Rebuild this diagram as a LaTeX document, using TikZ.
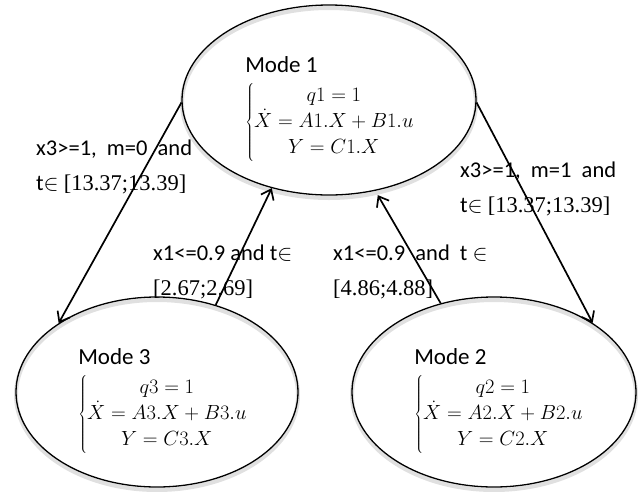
\documentclass[tikz,border=0pt]{standalone}
\usepackage{fix-cm}
\usepackage{fontspec}
\setmainfont{Carlito}
\newfontfamily\ivfont{Liberation Serif}
\usetikzlibrary{shapes.geometric,arrows.meta,backgrounds}

\tikzset{
  modebox/.style={ellipse, draw, line width=1.3pt, inner sep=0pt,
    minimum width=294pt, minimum height=190pt},
  modetext/.style={inner sep=0pt, font=\fontsize{20.5}{26}\selectfont},
  modeshadow/.style={draw=black!12, line width=4pt},
  trans/.style={line width=1.7pt, -{Straight Barb[length=9pt,width=14pt,line width=1.7pt]}},
  guard/.style={inner sep=0pt, anchor=base west, font=\fontsize{22.5}{35}\selectfont}
}

% body of a mode: title and its equations
\newcommand{\modebody}[1]{%
  \begin{tabular}{@{}l@{}}
  {\fontsize{23}{26}\selectfont Mode #1}\\[3pt]
  $\left\{\renewcommand{\arraystretch}{1.0}\begin{array}{@{}c@{}}
    q#1=1\\
    \dot X=A#1.X+B#1.u\\
    Y=C#1.X
  \end{array}\right.$
  \end{tabular}}
% time interval of a guard
\newcommand{\ival}[1]{{\ivfont[#1]}}

\begin{document}
\begin{tikzpicture}[x=1pt,y=-1pt]
\useasboundingbox (0,0) rectangle (643,491);

% the three modes
\node[modebox] (m1) at (329,100) {};
\node[modebox, minimum width=282pt] (m3) at (157,392) {};
\node[modebox, minimum width=284pt] (m2) at (494,392) {};

\node[modetext] (m1t) at (330,108) {\modebody{1}};
\node[modetext] (m3t) at (163,400) {\modebody{3}};
\node[modetext] (m2t) at (499,400) {\modebody{2}};

% soft drop shadows under the outlines
\begin{scope}[on background layer]
  \draw[modeshadow] (329,103) ellipse [x radius=147pt, y radius=95pt];
  \draw[modeshadow] (157,395) ellipse [x radius=141pt, y radius=95pt];
  \draw[modeshadow] (494,395) ellipse [x radius=142pt, y radius=95pt];
\end{scope}

% transitions
\draw[trans] (m1.181) -- (m3.145);
\draw[trans] (m3.56) -- (m1.237);
\draw[trans, shorten >=5pt] (m2.121) -- (m1.297);
\draw[trans] (m1.359) -- (m2.35);

% guards
\node[guard] (g13) at (36,155) {\begin{tabular}[t]{@{}l@{}}x3>=1,\ \ m=0\ \ and\\ t$\in$ \ival{13.37;13.39}\end{tabular}};
\node[guard] (g12) at (460,177) {\begin{tabular}[t]{@{}l@{}}x3>=1,\ \ m=1\ \ and\\ t$\in$ \ival{13.37;13.39}\end{tabular}};
\node[guard] (g31) at (153,260) {\begin{tabular}[t]{@{}l@{}}x1<=0.9 and t$\in$\\ \ival{2.67;2.69}\end{tabular}};
\node[guard] (g21) at (333,260) {\begin{tabular}[t]{@{}l@{}}x1<=0.9\ \ and\ \ t $\in$\\ \ival{4.86;4.88}\end{tabular}};
\end{tikzpicture}
\end{document}
